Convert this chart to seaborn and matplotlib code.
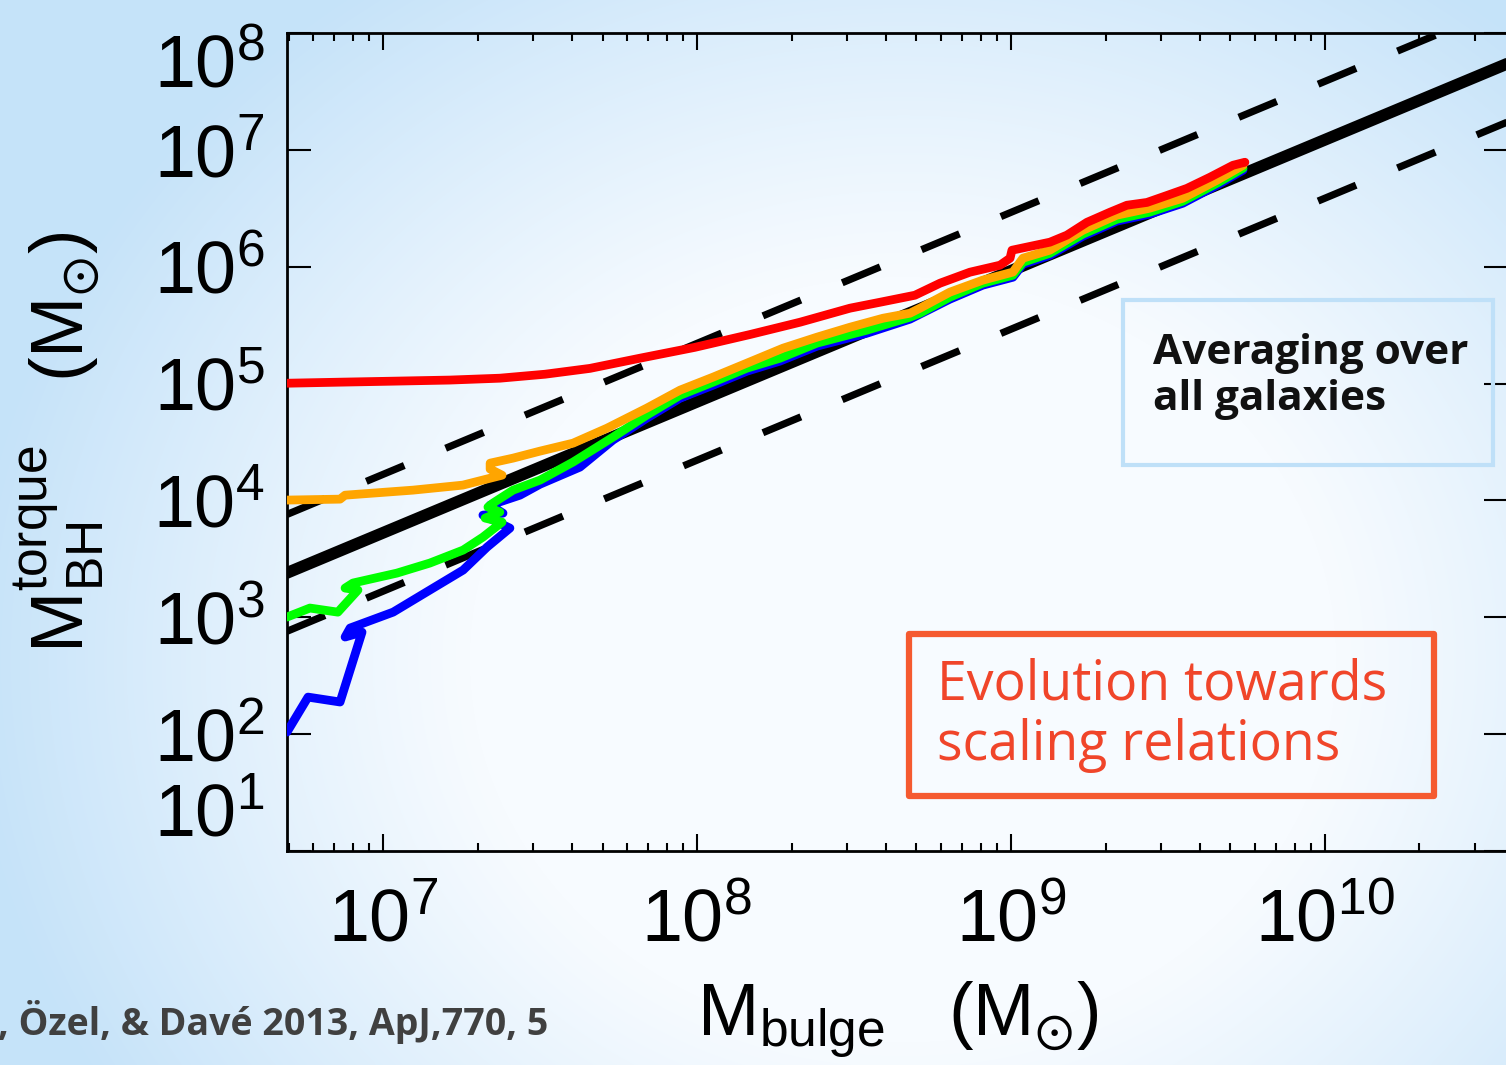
import numpy as np
import pandas as pd
import matplotlib
matplotlib.use('Agg')
import matplotlib.pyplot as plt
import matplotlib.patches as patches
from matplotlib.ticker import FixedLocator, LogLocator, NullLocator, NullFormatter
import seaborn as sns

# values, as log10(M_bulge) and log10(M_BH)
red_logm = [6.694, 6.863, 7.022, 7.213, 7.372, 7.516, 7.659, 7.818, 7.993, 8.169,
            8.328, 8.487, 8.583, 8.694, 8.774, 8.869, 8.965, 8.997, 9.003, 9.124,
            9.178, 9.242, 9.315, 9.369, 9.433, 9.497, 9.560, 9.634, 9.707, 9.745]
red_logbh = [5.003, 5.012, 5.020, 5.030, 5.046, 5.080, 5.130, 5.217, 5.310, 5.420,
             5.525, 5.645, 5.696, 5.756, 5.859, 5.953, 6.013, 6.073, 6.141, 6.210,
             6.270, 6.380, 6.466, 6.526, 6.550, 6.610, 6.670, 6.766, 6.868, 6.894]

orange_logm = [6.694, 6.863, 6.879, 7.095, 7.254, 7.379, 7.341, 7.341, 7.414, 7.500,
               7.605, 7.713, 7.840, 7.946, 8.051, 8.159, 8.274, 8.382, 8.487, 8.592,
               8.678, 8.710, 8.805, 8.910, 9.006, 9.038, 9.124, 9.229, 9.337, 9.442,
               9.547, 9.656, 9.739]
orange_logbh = [4.003, 4.011, 4.045, 4.088, 4.131, 4.216, 4.268, 4.319, 4.362, 4.422,
                4.490, 4.618, 4.790, 4.944, 5.055, 5.175, 5.303, 5.397, 5.482, 5.559,
                5.602, 5.645, 5.782, 5.885, 5.954, 6.073, 6.142, 6.312, 6.441, 6.501,
                6.586, 6.740, 6.868]

green_logm = [6.694, 6.767, 6.856, 6.920, 6.879, 6.904, 7.044, 7.149, 7.255, 7.318,
              7.379, 7.325, 7.372, 7.334, 7.350, 7.414, 7.500, 7.605, 7.732, 7.840,
              7.946, 8.051, 8.159, 8.264, 8.382, 8.541, 8.678, 8.710, 8.805, 8.910,
              9.006, 9.038, 9.124, 9.229, 9.337, 9.442, 9.547, 9.656, 9.739]
green_logbh = [3.002, 3.079, 3.044, 3.233, 3.250, 3.293, 3.378, 3.464, 3.575, 3.686,
               3.814, 3.849, 3.900, 3.943, 3.977, 4.088, 4.174, 4.328, 4.541, 4.730,
               4.900, 5.012, 5.132, 5.217, 5.346, 5.457, 5.568, 5.602, 5.739, 5.859,
               5.927, 6.038, 6.115, 6.279, 6.406, 6.467, 6.560, 6.714, 6.843]

blue_logm = [6.694, 6.761, 6.863, 6.933, 6.879, 6.895, 7.032, 7.149, 7.255, 7.331,
             7.404, 7.318, 7.382, 7.341, 7.436, 7.500, 7.627, 7.732, 7.840, 7.946,
             8.051, 8.159, 8.264, 8.382, 8.541, 8.678, 8.805, 8.910, 9.006, 9.038,
             9.124, 9.229, 9.337, 9.442, 9.547, 9.656, 9.739]
blue_logbh = [2.018, 2.317, 2.275, 2.873, 2.831, 2.908, 3.044, 3.233, 3.404, 3.600,
              3.763, 3.874, 3.891, 3.960, 4.045, 4.139, 4.285, 4.516, 4.704, 4.875,
              4.986, 5.106, 5.192, 5.320, 5.431, 5.551, 5.722, 5.842, 5.910, 6.021,
              6.098, 6.261, 6.390, 6.450, 6.543, 6.697, 6.826]

# scaling relation and its scatter (end points)
relation_logm = [6.694, 10.583]
relation_logbh = [3.38, 7.74]
upper_logbh = [3.88, 8.24]
lower_logbh = [2.88, 7.24]

x_ticks = [1e7, 1e8, 1e9, 1e10]
x_ticklabels = [r'$\mathregular{10^{7}}$', r'$\mathregular{10^{8}}$',
                r'$\mathregular{10^{9}}$', r'$\mathregular{10^{10}}$']
y_ticks = [1e1, 1e2, 1e3, 1e4, 1e5, 1e6, 1e7, 1e8]
y_ticklabels = [r'$\mathregular{10^{%d}}$' % k for k in range(1, 9)]

sns.set_theme(style='ticks')
plt.rcParams['font.family'] = ['Liberation Sans', 'DejaVu Sans']
plt.rcParams['mathtext.fontset'] = 'custom'
plt.rcParams['mathtext.rm'] = 'Liberation Sans'
plt.rcParams['mathtext.it'] = 'Liberation Sans:italic'
plt.rcParams['mathtext.bf'] = 'Liberation Sans:bold'

W, H = 1506, 1065
fig = plt.figure(figsize=(W / 100, H / 100), dpi=100)

# slide background gradient
bg = fig.add_axes([0, 0, 1, 1], zorder=-10)
u = np.linspace(0, 1, W)[None, :]
v = np.linspace(0, 1, H)[:, None]
d = np.sqrt(((u - 0.6) / 0.6) ** 2 + ((v - 0.62) / 0.75) ** 2)
t = (np.clip((d - 0.48) / 0.55, 0, 1) ** 1.1)[..., None]
white = np.array([247, 251, 255]) / 255
blue = np.array([198, 227, 249]) / 255
bg.imshow(white * (1 - t) + blue * t, aspect='auto', extent=[0, 1, 0, 1])
bg.axis('off')

ax = fig.add_axes([287 / W, 214 / H, 1221 / W, 818 / H])
ax.set_facecolor('none')
ax.set(xscale='log', yscale='log')

def to_mass(vals):
    return 10 ** np.asarray(vals)

rel_x = to_mass(relation_logm)
sns.lineplot(x=rel_x, y=to_mass(relation_logbh), color='black', linewidth=8.5,
             sort=False, ax=ax, zorder=2)
for lb in (upper_logbh, lower_logbh):
    sns.lineplot(x=rel_x, y=to_mass(lb), color='black', linewidth=5.2,
                 sort=False, ax=ax, zorder=2)
for line in ax.lines[1:]:
    line.set_dashes((5.7, 6.2))
    line.set_dash_capstyle('butt')

series = [(blue_logm, blue_logbh, '#0000ff'),
          (green_logm, green_logbh, '#00ff00'),
          (orange_logm, orange_logbh, '#ffa500'),
          (red_logm, red_logbh, '#ff0000')]
for i, (lm, lb, c) in enumerate(series):
    sns.lineplot(x=to_mass(lm), y=to_mass(lb), color=c, linewidth=6.3, sort=False,
                 estimator=None, ax=ax, zorder=3 + i)

ax.set_xlim(10 ** 6.694, 10 ** 10.583)
ax.set_ylim(1e1, 1e8)

ax.xaxis.set_major_locator(FixedLocator(x_ticks))
ax.set_xticklabels(x_ticklabels)
ax.xaxis.set_minor_locator(LogLocator(base=10, subs=np.arange(2, 10)))
ax.xaxis.set_minor_formatter(NullFormatter())
ax.yaxis.set_major_locator(FixedLocator(y_ticks))
ax.set_yticklabels(y_ticklabels)
ax.yaxis.set_minor_locator(NullLocator())

ax.tick_params(which='both', direction='in', top=True, right=True,
               color='black', width=1.5, labelsize=53, labelcolor='black')
ax.tick_params(axis='x', which='major', length=12, pad=26)
ax.tick_params(axis='x', which='minor', length=6)
ax.tick_params(axis='y', which='major', length=17, pad=16)
for s in ax.spines.values():
    s.set_linewidth(2)
    s.set_color('black')

ylabs = ax.get_yticklabels()
ylabs[0].set_va('bottom')
ylabs[-1].set_va('top')

ax.set_xlabel(r'$\mathregular{M_{bulge}\ \ \ (M_{\odot})}$', fontsize=53,
              color='black', labelpad=17)
ax.set_ylabel(r'$\mathregular{M_{BH}^{torque}\ \ \ (M_{\odot})}$', fontsize=53,
              color='black', labelpad=34)

# annotation boxes
fig.patches.append(patches.Rectangle((1123 / W, (H - 465) / H), 370 / W, 165 / H,
                                     transform=fig.transFigure, fill=False,
                                     edgecolor='#bfe0f8', lw=3, zorder=5))
fig.text(1153 / W, (H - 410) / H, 'Averaging over\nall galaxies',
         fontsize=30.5, fontweight='bold', family='Open Sans', color='#111111',
         va='baseline', ha='left', linespacing=1.16)

fig.patches.append(patches.Rectangle((909 / W, (H - 796) / H), 525 / W, 162 / H,
                                     transform=fig.transFigure, fill=False,
                                     edgecolor='#f55a30', lw=4.5, zorder=5,
                                     joinstyle='round'))
fig.text(937 / W, (H - 760) / H, 'Evolution towards\nscaling relations',
         fontsize=38.6, family='Open Sans', color='#f0452a',
         va='baseline', ha='left', linespacing=1.14)

fig.text(-2 / W, (H - 1035) / H, ', Özel, & Davé 2013, ApJ,770, 5',
         fontsize=27, fontweight='bold', family='Open Sans', color='#404040',
         va='baseline', ha='left')

fig.savefig('out.png', dpi=100)
